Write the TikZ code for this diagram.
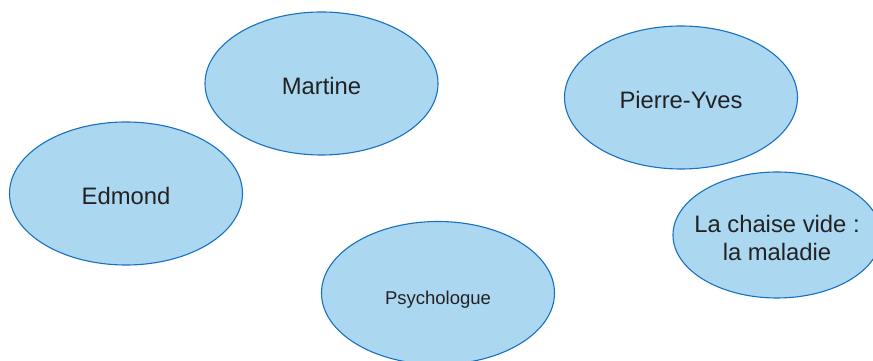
\documentclass[tikz,border=0pt]{standalone}
\usepackage{fontspec}
\setmainfont{Liberation Sans}
\definecolor{bullefond}{RGB}{172, 215, 241}
\definecolor{bullebord}{RGB}{22, 114, 192}
\definecolor{texte}{RGB}{34, 34, 34}
\usetikzlibrary{shapes.geometric}

\begin{document}
\begin{tikzpicture}[
  x=1pt, y=1pt,
  bulle/.style={ellipse, draw=bullebord, fill=bullefond, line width=1.1pt, inner sep=0pt,
    minimum width=233pt, minimum height=143pt, text=texte, font=\fontsize{23.8}{28}\selectfont,
    text height=22pt, text depth=0pt, align=center}
]
  \useasboundingbox (0, 0) rectangle (873, 361);

  % Personnes
  \node[bulle] (martine) at (321.5, 277.5) {Martine};
  \node[bulle] (edmond) at (126, 167.5) {Edmond};
  \node[bulle] (pierreyves) at (681, 263.5) {Pierre-Yves};

  % Psychologue et chaise vide
  \node[bulle, font=\fontsize{18.5}{22}\selectfont, text height=23pt] (psy) at (438, 68) {Psychologue};
  \node[bulle, minimum width=208pt, minimum height=126pt, inner xsep=-30pt,
    text height=52pt, text depth=0pt] (chaise) at (777, 126) {La chaise vide :\\la maladie};
\end{tikzpicture}
\end{document}
